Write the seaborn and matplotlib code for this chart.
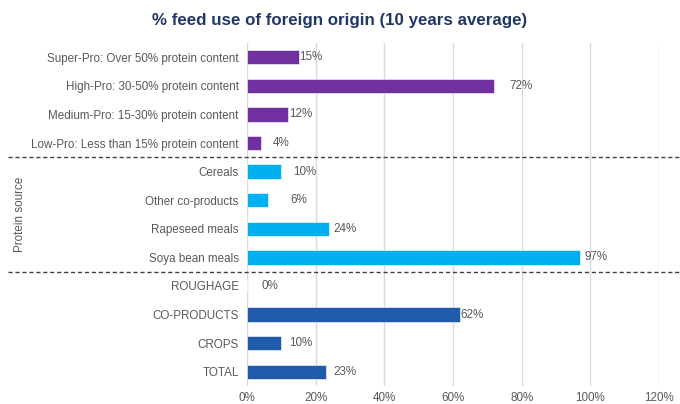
import matplotlib
matplotlib.use("Agg")
import matplotlib.pyplot as plt
import matplotlib.transforms as mtransforms
import seaborn as sns
import pandas as pd

# Feed categories, top to bottom
categories = [
    "Super-Pro: Over 50% protein content",
    "High-Pro: 30-50% protein content",
    "Medium-Pro: 15-30% protein content",
    "Low-Pro: Less than 15% protein content",
    "Cereals",
    "Other co-products",
    "Rapeseed meals",
    "Soya bean meals",
    "ROUGHAGE",
    "CO-PRODUCTS",
    "CROPS",
    "TOTAL",
]
# Share of feed use of foreign origin, percent
values = [15, 72, 12, 4, 10, 6, 24, 97, 0, 62, 10, 23]
groups = ["protein level"] * 4 + ["protein source"] * 4 + ["feed type"] * 4
# Extra horizontal nudge of each value label, in pixels
label_nudge = [1, 15, 1, 12, 12, 23, 4, 4, 15, 1, 8, 7]
x_ticks = [0, 20, 40, 60, 80, 100, 120]

palette = {"protein level": "#7030A0", "protein source": "#00B0F0", "feed type": "#1F5BA8"}
text_grey = "#595959"

sns.set_theme(style="white")
plt.rcParams["font.family"] = ["Liberation Sans", "DejaVu Sans"]

df = pd.DataFrame({"category": categories, "value": values, "group": groups})

fig = plt.figure(figsize=(6.8, 4.04), dpi=100)
ax = fig.add_axes([247 / 680, 18 / 404, 412 / 680, 343 / 404])

sns.barplot(data=df, x="value", y="category", hue="group", palette=palette,
            dodge=False, width=0.5, legend=False, ax=ax, zorder=3,
            saturation=1, edgecolor="white", linewidth=0.4)

ax.set_xlim(0, 120)
ax.set_ylim(len(categories) - 0.5, -0.5)
ax.set_xticks(x_ticks)
ax.set_xticklabels([f"{t}%" for t in x_ticks])
ax.xaxis.grid(True, color="#D9D9D9", linewidth=1, zorder=0)
ax.yaxis.grid(False)
for s in ax.spines.values():
    s.set_visible(False)
ax.tick_params(axis="both", length=0, colors=text_grey, labelsize=8.4)
ax.tick_params(axis="x", pad=4.5)
ax.tick_params(axis="y", pad=6)
ax.set_xlabel("")
ax.set_ylabel("")

# Value labels at the end of each bar
for i, (v, dx) in enumerate(zip(values, label_nudge)):
    ax.annotate(f"{v}%", xy=(v, i), xytext=(dx * 0.72, 0), textcoords="offset points",
                ha="left", va="center", fontsize=8.4, color=text_grey, zorder=4)

# Dashed separators between the three groups, spanning the figure width
blend = mtransforms.blended_transform_factory(fig.transFigure, ax.transData)
for y in (3.5, 7.5):
    ax.plot([8 / 680, 1.0], [y, y], transform=blend, clip_on=False,
            color="#404040", linestyle=(0, (3, 2)), linewidth=1, zorder=5)

fig.text(20 / 680, 1 - 214 / 404, "Protein source", rotation=90, ha="center",
         va="center", fontsize=8.4, color=text_grey)

fig.text(0.5, 1 - 20 / 404, "% feed use of foreign origin (10 years average)",
         ha="center", va="center", fontsize=12.2, fontweight="bold", color="#203864")

fig.savefig("out.png", dpi=100)
